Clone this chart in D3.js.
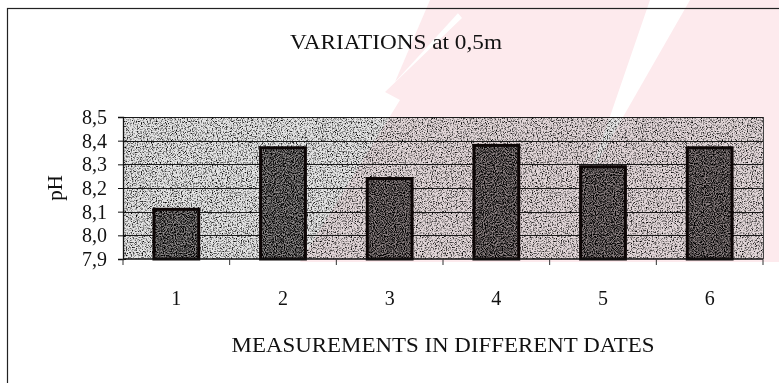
<!DOCTYPE html>
<html>
<head>
<meta charset="utf-8">
<script src="https://cdn.jsdelivr.net/npm/d3@7"></script>
<style>
  html, body { margin: 0; padding: 0; background: #ffffff; }
  svg { display: block; }
  text { font-family: "Liberation Serif", "Times New Roman", serif; fill: #111; }
</style>
</head>
<body>
<svg id="chart" width="779" height="383"></svg>
<script>
// pH measured at 0.5 m depth on six dates
const categories = ["1", "2", "3", "4", "5", "6"];
const phValues = [8.11, 8.37, 8.24, 8.38, 8.29, 8.37];
const yTicks = [7.9, 8.0, 8.1, 8.2, 8.3, 8.4, 8.5];
const titleText = "VARIATIONS at 0,5m";
const xTitleText = "MEASUREMENTS IN DIFFERENT DATES";
const yTitleText = "pH";

const W = 779, H = 383;
const plot = { left: 123, top: 117, right: 763, bottom: 259 };
const pw = plot.right - plot.left, ph = plot.bottom - plot.top;

const svg = d3.select("#chart");
const defs = svg.append("defs");

// speckle texture: black dots with random alpha, clipped to the shape
function grain(id, freq, slope, offset, seed) {
  const f = defs.append("filter").attr("id", id)
    .attr("x", 0).attr("y", 0).attr("width", 1).attr("height", 1);
  f.append("feTurbulence").attr("type", "fractalNoise")
    .attr("baseFrequency", freq).attr("numOctaves", 2).attr("seed", seed).attr("result", "noise");
  f.append("feColorMatrix").attr("in", "noise").attr("type", "matrix")
    .attr("values", `0 0 0 0 0  0 0 0 0 0  0 0 0 0 0  ${slope} 0 0 0 ${offset}`)
    .attr("result", "dots");
  f.append("feComposite").attr("in", "dots").attr("in2", "SourceGraphic").attr("operator", "in");
}
grain("plotGrain", 0.8, -3.0, 1.6, 4);
grain("barGrain", 0.9, -3.0, 1.95, 9);

defs.append("clipPath").attr("id", "plotClip").append("rect")
  .attr("x", plot.left).attr("y", plot.top).attr("width", pw).attr("height", ph);

// comma decimal separator for tick labels
const locale = d3.formatLocale({ decimal: ",", thousands: ".", grouping: [3], currency: ["", ""] });
const fmt = locale.format(".1f");

const x = d3.scaleBand().domain(categories)
  .range([plot.left, plot.right]).paddingInner(0.58).paddingOuter(0.29);
const y = d3.scaleLinear().domain([7.9, 8.5]).range([plot.bottom, plot.top]);

// faint pink diagonal bands printed across the page
const bands = [
  [[315, 0], [447, 0], [462, 18], [385, 92], [400, 100], [300, 262], [560, 262], [650, 0]],
  [[470, 0], [395, 82], [430, 0]],
  [[690, 0], [779, 0], [779, 262], [540, 262]],
];
function drawBands(g, fill) {
  g.selectAll("polygon").data(bands).join("polygon")
    .attr("points", d => d.map(p => p.join(",")).join(" "))
    .attr("fill", fill);
}
svg.append("g").call(drawBands, "#fdeaed");

// outer chart frame
svg.append("rect")
  .attr("x", 7.5).attr("y", 8.5).attr("width", 820).attr("height", 420)
  .attr("fill", "none").attr("stroke", "#222").attr("stroke-width", 1.2);

// plot area with speckled fill
svg.append("rect").attr("x", plot.left).attr("y", plot.top).attr("width", pw).attr("height", ph)
  .attr("fill", "#e4e4e4");
svg.append("rect").attr("x", plot.left).attr("y", plot.top).attr("width", pw).attr("height", ph)
  .attr("fill", "#000").attr("filter", "url(#plotGrain)");

// horizontal gridlines
svg.append("g").selectAll("line").data(yTicks.slice(1)).join("line")
  .attr("x1", plot.left).attr("x2", plot.right)
  .attr("y1", d => Math.round(y(d)) + 0.5).attr("y2", d => Math.round(y(d)) + 0.5)
  .attr("stroke", "#1a1a1a").attr("stroke-width", 1.1);

// right edge of the plot area
svg.append("line").attr("x1", plot.right + 0.5).attr("x2", plot.right + 0.5)
  .attr("y1", plot.top).attr("y2", plot.bottom).attr("stroke", "#444").attr("stroke-width", 1);

// bars
const bars = svg.append("g");
bars.selectAll("rect.fill").data(phValues).join("rect").attr("class", "fill")
  .attr("x", (d, i) => x(categories[i])).attr("width", x.bandwidth())
  .attr("y", d => y(d)).attr("height", d => y(7.9) - y(d))
  .attr("fill", "#8c8888");
bars.selectAll("rect.grain").data(phValues).join("rect").attr("class", "grain")
  .attr("x", (d, i) => x(categories[i])).attr("width", x.bandwidth())
  .attr("y", d => y(d)).attr("height", d => y(7.9) - y(d))
  .attr("fill", "#000").attr("filter", "url(#barGrain)");
bars.selectAll("rect.edge").data(phValues).join("rect").attr("class", "edge")
  .attr("x", (d, i) => x(categories[i])).attr("width", x.bandwidth())
  .attr("y", d => y(d)).attr("height", d => y(7.9) - y(d))
  .attr("fill", "none").attr("stroke", "#0d0606").attr("stroke-width", 3);

// light pink tint carried over the plot area
svg.append("g").attr("clip-path", "url(#plotClip)")
  .style("mix-blend-mode", "multiply").attr("opacity", 0.55)
  .call(drawBands, "#fbe4e8");

// y axis
const yAxis = svg.append("g").attr("transform", `translate(${plot.left},0)`)
  .call(d3.axisLeft(y).tickValues(yTicks).tickFormat(fmt).tickSize(5).tickPadding(11));
yAxis.select(".domain").attr("stroke", "#111").attr("stroke-width", 1.3);
yAxis.selectAll(".tick line").attr("stroke", "#111").attr("x2", -5).attr("x1", 3);
yAxis.selectAll(".tick text").attr("font-size", 20)
  .attr("font-family", "'Liberation Serif', serif").attr("fill", "#111");

// x axis: ticks sit on the band boundaries, labels at band centres
const xAxis = svg.append("g").attr("transform", `translate(0,${plot.bottom})`);
xAxis.append("line").attr("x1", plot.left).attr("x2", plot.right)
  .attr("stroke", "#111").attr("stroke-width", 1.6);
const boundaries = categories.map(c => x(c) - x.step() * x.paddingInner() / 2)
  .concat([plot.right]);
boundaries[0] = plot.left;
xAxis.selectAll("line.tick").data(boundaries).join("line").attr("class", "tick")
  .attr("x1", d => d).attr("x2", d => d).attr("y1", 0).attr("y2", 6)
  .attr("stroke", "#333").attr("stroke-width", 1);
xAxis.selectAll("text").data(categories).join("text")
  .attr("x", d => x(d) + x.bandwidth() / 2).attr("y", 46)
  .attr("text-anchor", "middle").attr("font-size", 20).text(d => d);

// titles
svg.append("text").attr("x", 396).attr("y", 49).attr("text-anchor", "middle")
  .attr("font-size", 21).attr("textLength", 212).attr("lengthAdjust", "spacingAndGlyphs")
  .text(titleText);
svg.append("text").attr("x", (plot.left + plot.right) / 2).attr("y", 352).attr("text-anchor", "middle")
  .attr("font-size", 21).attr("textLength", 423).attr("lengthAdjust", "spacingAndGlyphs")
  .text(xTitleText);
svg.append("text").attr("transform", `translate(62,188) rotate(-90)`).attr("text-anchor", "middle")
  .attr("font-size", 21).text(yTitleText);
</script>
</body>
</html>
